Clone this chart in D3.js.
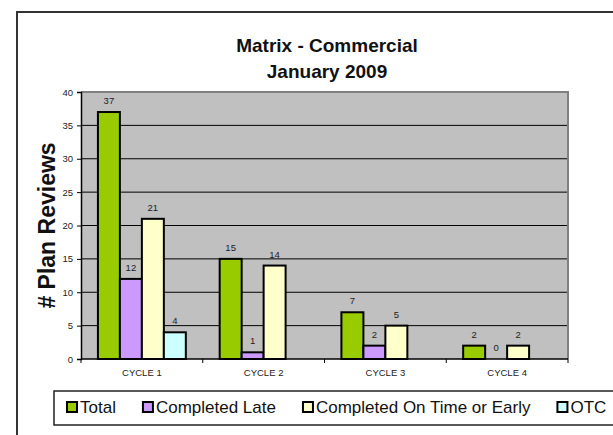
<!DOCTYPE html>
<html>
<head>
<meta charset="utf-8">
<script src="https://cdn.jsdelivr.net/npm/d3@7"></script>
<style>
  body { margin: 0; background: #fff; }
  svg { display: block; font-family: Arial, "Liberation Sans", sans-serif; }
</style>
</head>
<body>
<div id="chart"></div>
<script>
// chart data
const cycles = ['CYCLE 1', 'CYCLE 2', 'CYCLE 3', 'CYCLE 4']
const seriesNames = ['Total', 'Completed Late', 'Completed On Time or Early', 'OTC']
const seriesColors = ['#99cc00', '#cc99ff', '#ffffcc', '#ccffff']
const totalVals = [37, 15, 7, 2]
const lateVals = [12, 1, 2, 0]
const onTimeVals = [21, 14, 5, 2]
const otcVals = [4, null, null, null]
const yTicks = [0, 5, 10, 15, 20, 25, 30, 35, 40]

const seriesVals = [totalVals, lateVals, onTimeVals, otcVals]

const width = 613
const height = 435
const margin = { top: 92, right: 45, bottom: 76, left: 81 }
const plotW = width - margin.left - margin.right
const plotH = height - margin.top - margin.bottom

const svg = d3.select('#chart')
  .append('svg')
  .attr('width', width)
  .attr('height', height)

// outer chart frame (runs off the page on right and bottom)
svg.append('rect')
  .attr('x', 17).attr('y', 12)
  .attr('width', 700).attr('height', 500)
  .attr('fill', 'none')
  .attr('stroke', '#333')
  .attr('stroke-width', 2)

// title
const title = svg.append('text')
  .attr('text-anchor', 'middle')
  .style('font-size', '19px')
  .style('font-weight', 'bold')
  .attr('fill', '#111')
title.append('tspan').attr('x', 327).attr('y', 52).text('Matrix - Commercial')
title.append('tspan').attr('x', 327).attr('y', 78).text('January 2009')

const chart = svg.append('g')
  .attr('transform', `translate(${margin.left},${margin.top})`)

// scales
const x0 = d3.scaleBand().domain(cycles).range([0, plotW]).padding(0)
const x1 = d3.scaleBand().domain(seriesNames).range([0, x0.bandwidth()])
  .paddingInner(0).paddingOuter(0.77)
const y = d3.scaleLinear().domain([0, 40]).range([plotH, 0])

// plot background
chart.append('rect')
  .attr('width', plotW).attr('height', plotH)
  .attr('fill', '#c0c0c0')

// grid lines
chart.selectAll('.grid-line')
  .data(yTicks.filter(d => d > 0 && d < 40))
  .enter()
  .append('line')
  .attr('class', 'grid-line')
  .attr('x1', 0).attr('x2', plotW)
  .attr('y1', d => y(d)).attr('y2', d => y(d))
  .attr('stroke', '#000')
  .attr('stroke-width', 1)

// gray border on top and right of plot area
chart.append('path')
  .attr('d', `M0,0H${plotW}V${plotH}`)
  .attr('fill', 'none')
  .attr('stroke', '#808080')
  .attr('stroke-width', 2)

// bars
const rows = []
seriesVals.forEach((vals, s) => {
  vals.forEach((v, c) => {
    if (v !== null) rows.push({ series: seriesNames[s], color: seriesColors[s], cycle: cycles[c], value: v })
  })
})

chart.selectAll('.bar')
  .data(rows.filter(d => d.value > 0))
  .enter()
  .append('rect')
  .attr('class', 'bar')
  .attr('x', d => x0(d.cycle) + x1(d.series))
  .attr('y', d => y(d.value))
  .attr('width', x1.bandwidth())
  .attr('height', d => plotH - y(d.value))
  .attr('fill', d => d.color)
  .attr('stroke', '#000')
  .attr('stroke-width', 2)

// value labels
chart.selectAll('.point-label')
  .data(rows)
  .enter()
  .append('text')
  .attr('class', 'point-label')
  .attr('x', d => x0(d.cycle) + x1(d.series) + x1.bandwidth() / 2)
  .attr('y', d => y(d.value) - 8)
  .attr('text-anchor', 'middle')
  .style('font-size', '9.5px')
  .attr('fill', '#222')
  .text(d => d.value)

// y axis
const yAxis = chart.append('g')
  .attr('class', 'y-axis')
  .call(d3.axisLeft(y).tickValues(yTicks).tickSize(4).tickPadding(4))
yAxis.select('.domain').attr('stroke', '#000').attr('stroke-width', 1.5)
yAxis.selectAll('.tick line').attr('stroke', '#000')
yAxis.selectAll('text')
  .style('font-size', '9.5px')
  .style('font-family', 'Arial, "Liberation Sans", sans-serif')
  .attr('fill', '#222')

// x axis: ticks at category boundaries
const xAxis = chart.append('g')
  .attr('class', 'x-axis')
  .attr('transform', `translate(0,${plotH})`)
xAxis.append('line')
  .attr('x1', 0).attr('x2', plotW)
  .attr('stroke', '#000').attr('stroke-width', 1.5)
xAxis.selectAll('.cat-tick')
  .data(cycles.concat(['end']))
  .enter()
  .append('line')
  .attr('class', 'cat-tick')
  .attr('x1', (d, i) => i * x0.step()).attr('x2', (d, i) => i * x0.step())
  .attr('y1', 0).attr('y2', 4)
  .attr('stroke', '#000')
xAxis.selectAll('.cat-label')
  .data(cycles)
  .enter()
  .append('text')
  .attr('class', 'cat-label')
  .attr('x', d => x0(d) + x0.bandwidth() / 2)
  .attr('y', 17)
  .attr('text-anchor', 'middle')
  .style('font-size', '9.5px')
  .attr('fill', '#222')
  .text(d => d)

// y axis title
svg.append('text')
  .attr('text-anchor', 'middle')
  .attr('transform', `translate(55,${margin.top + plotH / 2}) rotate(-90)`)
  .style('font-size', '23px')
  .style('font-weight', 'bold')
  .attr('fill', '#111')
  .text('# Plan Reviews')

// legend box (runs off the page on the right)
svg.append('rect')
  .attr('x', 54).attr('y', 391)
  .attr('width', 700).attr('height', 34)
  .attr('fill', '#fff')
  .attr('stroke', '#222')
  .attr('stroke-width', 1.5)

const legend = svg.append('g').attr('class', 'legend')
let lx = 67
seriesNames.forEach((name, i) => {
  const item = legend.append('g').attr('transform', `translate(${lx},0)`)
  item.append('rect')
    .attr('x', 0).attr('y', 402)
    .attr('width', 10).attr('height', 10)
    .attr('fill', seriesColors[i])
    .attr('stroke', '#000')
    .attr('stroke-width', 2)
  const t = item.append('text')
    .attr('x', 13).attr('y', 413)
    .style('font-size', '17px')
    .attr('fill', '#111')
    .text(name)
  lx += 13 + t.node().getComputedTextLength() + 27
})
</script>
</body>
</html>
